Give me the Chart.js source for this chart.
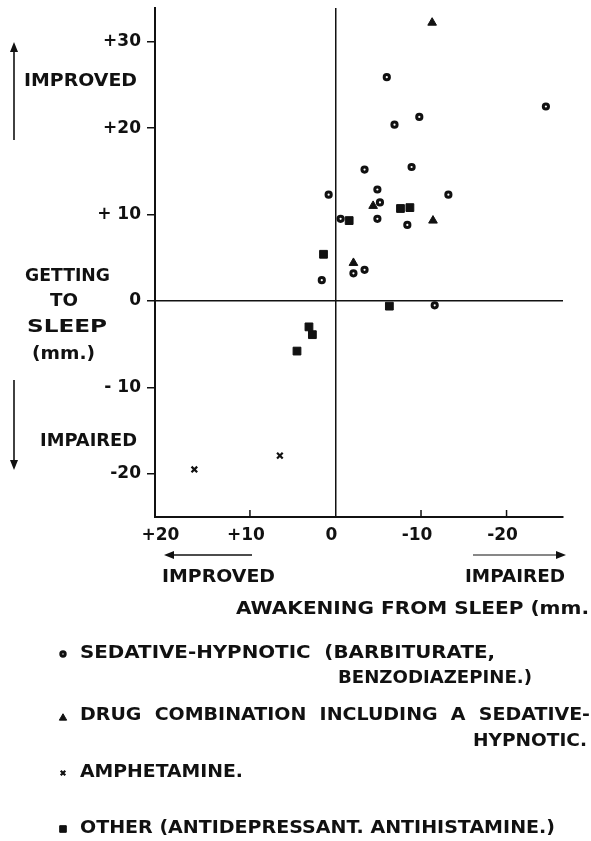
<!DOCTYPE html>
<html>
<head>
<meta charset="utf-8">
<script src="https://cdn.jsdelivr.net/npm/chart.js@4.4.0/dist/chart.umd.min.js"></script>
<style>
  html, body { margin: 0; padding: 0; background: #fff; }
  #wrap { width: 591px; height: 841px; }
</style>
</head>
<body>
<div id="wrap"><canvas id="sleepChart" width="591" height="841"></canvas></div>
<script>
// awakening from sleep (x, mm) against getting to sleep (y, mm)
const sedativeX = [-6.0, -24.6, -9.8, -6.9, -3.4, -8.9, -4.9, 0.8, -13.2, -5.2, -0.6, -4.9, -8.4, -2.1, -3.4, 1.6, -11.6];
const sedativeY = [25.9, 22.5, 21.3, 20.4, 15.2, 15.5, 12.9, 12.3, 12.3, 11.4, 9.5, 9.5, 8.8, 3.2, 3.6, 2.4, -0.5];
const comboX = [-11.3, -4.4, -11.4, -2.1];
const comboY = [32.2, 11.0, 9.3, 4.4];
const amphX = [6.5, 16.5];
const amphY = [-17.9, -19.5];
const otherX = [-7.6, -8.7, -1.6, 1.4, -6.3, 3.1, 2.7, 4.5];
const otherY = [10.7, 10.8, 9.3, 5.4, -0.6, -3.0, -3.9, -5.8];

const xTicks = [20, 10, 0, -10, -20];
const xTickLabels = ['+20', '+10', '0', '-10', '-20'];
const yTicks = [30, 20, 10, 0, -10, -20];
const yTickLabels = ['+30', '+20', '+ 10', '0', '- 10', '-20'];

const FONT = '"DejaVu Sans", "Liberation Sans", sans-serif';
const INK = '#111';

function pairs(xs, ys) {
    return xs.map((x, i) => ({ x: x, y: ys[i] }));
}

const markerStyles = {
    sedative: { pointStyle: 'circle', radius: 2.6, borderWidth: 3, backgroundColor: '#fff', borderColor: INK },
    combo: { pointStyle: 'triangle', radius: 5, borderWidth: 1, backgroundColor: INK, borderColor: INK },
    amph: { pointStyle: 'crossRot', radius: 4, borderWidth: 2.2, backgroundColor: INK, borderColor: INK },
    other: { pointStyle: 'rect', radius: 5.5, borderWidth: 1, backgroundColor: INK, borderColor: INK }
};

function makeSet(label, xs, ys, st) {
    return {
        label: label,
        data: pairs(xs, ys),
        pointStyle: st.pointStyle,
        pointRadius: st.radius,
        pointBorderWidth: st.borderWidth,
        pointBackgroundColor: st.backgroundColor,
        pointBorderColor: st.borderColor,
        showLine: false
    };
}

// squeeze or stretch a text so it spans left..right
function fitText(ctx, str, left, right, cy) {
    const w = ctx.measureText(str).width;
    ctx.save();
    ctx.translate(left, cy);
    ctx.scale((right - left) / w, 1);
    ctx.textAlign = 'left';
    ctx.textBaseline = 'middle';
    ctx.fillText(str, 0, 0);
    ctx.restore();
}

function arrow(ctx, x1, y1, x2, y2) {
    const ang = Math.atan2(y2 - y1, x2 - x1);
    const len = 10, half = 4;
    ctx.beginPath();
    ctx.moveTo(x1, y1);
    ctx.lineTo(x2 - Math.cos(ang) * len * 0.8, y2 - Math.sin(ang) * len * 0.8);
    ctx.stroke();
    ctx.beginPath();
    ctx.moveTo(x2, y2);
    ctx.lineTo(x2 - Math.cos(ang) * len - Math.sin(ang) * half, y2 - Math.sin(ang) * len + Math.cos(ang) * half);
    ctx.lineTo(x2 - Math.cos(ang) * len + Math.sin(ang) * half, y2 - Math.sin(ang) * len - Math.cos(ang) * half);
    ctx.closePath();
    ctx.fill();
}

const annotations = {
    id: 'annotations',
    afterDraw(chart) {
        const ctx = chart.ctx;
        const xs = chart.scales.x;
        ctx.save();
        ctx.strokeStyle = INK;
        ctx.fillStyle = INK;

        // x axis ticks point up into the plot
        ctx.lineWidth = 1.5;
        xTicks.forEach(v => {
            if (v === 0 || v === 20) return;
            const px = xs.getPixelForValue(v);
            ctx.beginPath();
            ctx.moveTo(px, xs.top);
            ctx.lineTo(px, xs.top - 7);
            ctx.stroke();
        });

        // arrows
        ctx.lineWidth = 1.6;
        arrow(ctx, 14, 140, 14, 42);
        arrow(ctx, 14, 380, 14, 470);
        arrow(ctx, 252, 555, 164, 555);
        ctx.lineWidth = 1.2;
        arrow(ctx, 473, 555, 566, 555);

        ctx.font = 'bold 17px ' + FONT;
        // y axis words
        fitText(ctx, 'IMPROVED', 24, 137, 82);
        fitText(ctx, 'GETTING', 25, 110, 277);
        fitText(ctx, 'TO', 50, 78, 302);
        fitText(ctx, 'SLEEP', 27, 107, 328);
        fitText(ctx, '(mm.)', 32, 95, 355);
        fitText(ctx, 'IMPAIRED', 40, 137, 442);
        // x axis words
        fitText(ctx, 'IMPROVED', 162, 275, 578);
        fitText(ctx, 'IMPAIRED', 465, 565, 578);
        fitText(ctx, 'AWAKENING FROM SLEEP (mm.', 236, 589, 610);

        // key
        fitText(ctx, 'SEDATIVE-HYPNOTIC  (BARBITURATE,', 80, 495, 654);
        fitText(ctx, 'BENZODIAZEPINE.)', 338, 532, 679);
        fitText(ctx, 'DRUG  COMBINATION  INCLUDING  A  SEDATIVE-', 80, 590, 716);
        fitText(ctx, 'HYPNOTIC.', 473, 587, 742);
        fitText(ctx, 'AMPHETAMINE.', 80, 243, 773);
        fitText(ctx, 'OTHER (ANTIDEPRESSANT. ANTIHISTAMINE.)', 80, 555, 829);

        const keyY = [654, 718, 773, 829];
        ['sedative', 'combo', 'amph', 'other'].forEach((k, i) => {
            const st = markerStyles[k];
            ctx.fillStyle = st.backgroundColor;
            ctx.strokeStyle = st.borderColor;
            ctx.lineWidth = st.borderWidth;
            Chart.helpers.drawPoint(ctx, {
                pointStyle: st.pointStyle,
                radius: k === 'amph' ? 3.2 : st.radius * 0.85,
                rotation: 0,
                borderWidth: st.borderWidth
            }, 63, keyY[i]);
        });
        ctx.restore();
    }
};

const ctx = document.getElementById('sleepChart').getContext('2d');

new Chart(ctx, {
    type: 'scatter',
    data: {
        datasets: [
            makeSet('Sedative-hypnotic', sedativeX, sedativeY, markerStyles.sedative),
            makeSet('Drug combination', comboX, comboY, markerStyles.combo),
            makeSet('Amphetamine', amphX, amphY, markerStyles.amph),
            makeSet('Other', otherX, otherY, markerStyles.other)
        ]
    },
    options: {
        responsive: false,
        animation: false,
        layout: { padding: { top: 8, right: 28, left: 0, bottom: 0 } },
        plugins: {
            legend: { display: false },
            tooltip: { enabled: false }
        },
        scales: {
            x: {
                type: 'linear',
                reverse: true,
                min: -26.6,
                max: 21.1,
                afterBuildTicks: s => { s.ticks = xTicks.map(v => ({ value: v })); },
                afterFit: s => { s.height = 324; s.paddingLeft = 0; s.paddingRight = 0; },
                border: { display: true, color: INK, width: 2 },
                grid: {
                    drawTicks: false,
                    lineWidth: 1.5,
                    color: c => (c.tick && c.tick.value === 0) ? INK : 'rgba(0,0,0,0)'
                },
                ticks: {
                    padding: 8,
                    labelOffset: -4,
                    color: INK,
                    font: { family: FONT, size: 17, weight: 'bold' },
                    callback: v => xTickLabels[xTicks.indexOf(v)]
                }
            },
            y: {
                type: 'linear',
                min: -25,
                max: 33.9,
                afterBuildTicks: s => { s.ticks = yTicks.map(v => ({ value: v })); },
                afterFit: s => { s.width = 155; s.paddingTop = 0; s.paddingBottom = 0; },
                border: { display: true, color: INK, width: 2 },
                grid: {
                    drawTicks: true,
                    tickLength: 8,
                    tickColor: INK,
                    tickWidth: 1.5,
                    lineWidth: 1.5,
                    color: c => (c.tick && c.tick.value === 0) ? INK : 'rgba(0,0,0,0)'
                },
                ticks: {
                    padding: 6,
                    color: INK,
                    font: { family: FONT, size: 17, weight: 'bold' },
                    callback: v => yTickLabels[yTicks.indexOf(v)]
                }
            }
        }
    },
    plugins: [annotations]
});
</script>
</body>
</html>
